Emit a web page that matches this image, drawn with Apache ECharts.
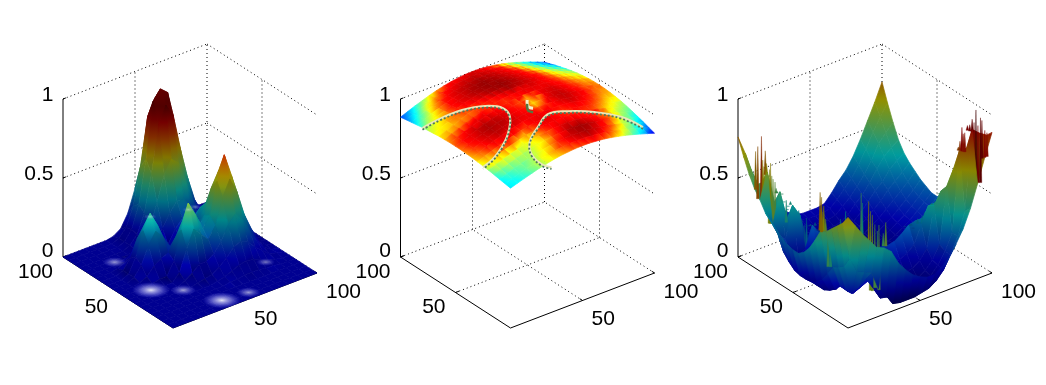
<!DOCTYPE html>
<html>
<head>
<meta charset="utf-8">
<style>html,body{margin:0;background:#fff}#chart{width:1046px;height:385px;filter:blur(0.5px)}</style>
<script src="https://cdn.jsdelivr.net/npm/echarts@6/dist/echarts.min.js"></script>
</head>
<body>
<div id="chart"></div>
<script>
// grid nodes of all three surfaces, same for x and y
const gridPos = [0,5,10,15,20,25,30,35,40,45,50,55,60,65,70,75,80,85,90,95,100];
const zTicks = [0, 0.5, 1];
const zTickLabels = ['0', '0.5', '1'];
const xyTicks = [0, 50, 100];
const xyTickLabels = ['', '50', '100'];

// left surface, height x 100, one row per y
const heightsA = [
[0,0,0,0,0,0,0,0,0,0,0,0,0,0,0,0,0,0,0,0,0],
[0,0,0,0,0,0,0,0,0,0,0,0,0,0,0,0,0,0,0,0,0],
[0,0,0,0,0,0,0,0,0,0,0,0,0,0,0,0,0,0,0,0,0],
[0,0,0,0,0,0,0,0,0,0,0,0,0,0,0,0,0,0,0,0,0],
[0,0,0,0,0,0,0,0,0,0,0,1,1,2,2,2,1,1,0,0,0],
[0,0,0,0,0,0,0,0,0,0,1,2,4,6,7,6,4,2,1,0,0],
[0,0,0,0,0,0,0,0,1,2,3,6,10,15,17,15,10,6,2,1,0],
[0,0,0,0,0,0,0,2,5,9,9,12,18,27,32,27,18,10,4,1,0],
[0,0,0,0,0,0,0,5,18,29,24,19,26,42,52,42,26,15,6,2,0],
[0,0,0,0,1,2,2,10,28,43,34,24,30,50,65,50,30,16,7,2,0],
[0,0,0,1,3,8,11,13,21,30,24,21,28,44,53,43,26,15,6,2,0],
[0,0,0,2,8,19,26,21,13,11,9,13,22,32,37,28,18,10,4,1,0],
[0,0,0,2,11,26,35,26,12,4,3,10,19,27,27,20,11,6,2,1,0],
[0,0,0,2,8,19,26,19,8,2,2,9,16,20,18,12,4,2,1,0,0],
[0,0,0,1,3,8,11,8,4,3,4,12,17,19,15,9,2,2,0,0,0],
[0,0,0,0,1,2,2,2,3,6,12,20,26,25,19,10,4,2,1,0,0],
[0,0,0,0,0,0,0,1,4,12,26,42,50,46,33,19,9,4,2,0,0],
[0,0,0,0,0,0,0,2,7,19,42,72,82,74,51,31,15,6,3,0,0],
[0,0,0,0,0,0,0,2,8,22,49,84,90,86,59,36,17,7,3,0,0],
[0,0,0,0,0,0,0,2,7,19,42,72,82,74,51,31,15,6,3,0,0],
[0,0,0,0,0,0,0,1,4,12,26,42,49,44,32,19,9,4,2,0,0]
];

// glare patches on the left surface: position, height under the patch, strength
const glareX = [19, 16, 30, 40, 57, 85, 30, 45, 66];
const glareY = [78, 41, 30, 8, 6, 27, 60, 45, 66];
const glareZ = [0, 0, 0, 0, 0, 0, 0.33, 0.39, 0.24];
const glareAmount = [0.5, 1, 0.55, 1, 0.5, 0.3, 0.1, 0.08, 0.1];

// middle surface, height x 1000
const heightsB = [
[885,900,914,928,941,952,962,970,975,979,980,979,975,970,962,952,941,928,914,900,885],
[891,907,922,936,948,961,971,979,985,989,990,989,986,981,973,964,952,940,927,912,897],
[897,913,929,943,957,969,979,988,994,999,1001,1000,997,991,984,976,964,952,938,924,910],
[903,919,935,950,965,977,988,997,1003,1008,1010,1010,1007,1002,995,986,976,963,950,935,921],
[909,925,942,957,971,984,996,1005,1012,1017,1019,1019,1017,1012,1005,996,985,974,961,946,932],
[913,931,947,963,978,991,1003,1012,1020,1025,1027,1028,1025,1021,1014,1005,995,982,970,956,942],
[917,935,952,968,983,996,1009,1019,1026,1032,1035,1035,1033,1028,1022,1013,1002,991,977,964,950],
[921,938,956,972,988,1002,1014,1024,1032,1038,1040,1041,1039,1035,1029,1019,1009,997,985,971,956],
[923,941,959,976,992,1006,1017,1028,1036,1042,1045,1046,1044,1040,1033,1025,1014,1002,989,975,961],
[925,942,960,977,993,1008,1020,1031,1039,1045,1048,1049,1047,1043,1036,1028,1017,1005,992,978,964],
[925,943,961,979,995,1009,1022,1033,1041,1047,1050,1051,1049,1045,1038,1029,1019,1007,993,979,965],
[925,943,961,978,994,1009,1022,1032,1041,1047,1050,1051,1049,1044,1038,1029,1018,1006,993,979,964],
[923,942,960,978,994,1009,1021,1031,1040,1046,1049,1050,1048,1043,1037,1028,1016,1004,990,976,961],
[921,939,957,975,992,1006,1018,1029,1038,1044,1046,1047,1045,1040,1033,1023,1013,1000,986,972,956],
[917,936,955,971,988,1002,1015,1026,1034,1040,1043,1043,1041,1035,1028,1019,1007,994,980,965,950],
[913,932,950,968,982,998,1011,1021,1030,1035,1037,1038,1035,1030,1022,1012,1001,987,973,957,942],
[909,927,945,962,978,992,1006,1016,1024,1029,1031,1031,1029,1023,1015,1004,992,979,964,948,932],
[903,921,940,956,973,987,1000,1010,1017,1022,1024,1024,1021,1015,1007,996,984,970,955,937,921],
[897,916,934,950,966,980,992,1003,1009,1015,1017,1016,1012,1006,997,987,973,959,943,924,910],
[891,910,927,944,959,974,985,995,1002,1007,1008,1007,1003,997,988,977,964,950,932,915,897],
[885,903,921,937,953,966,978,987,994,999,1000,999,994,987,978,966,953,937,921,903,885]
];

// middle surface colour index 0..100 on the jet ramp
const colorsB = [
[35,37,41,46,52,57,62,65,68,70,72,73,73,71,68,63,56,48,38,26,10],
[36,40,44,48,53,58,63,68,72,77,83,87,88,84,77,70,62,54,45,34,20],
[40,44,47,50,53,57,62,67,73,82,90,95,97,93,85,76,68,59,50,40,28],
[46,50,53,54,55,57,60,65,72,80,90,96,98,94,86,78,71,62,54,46,36],
[54,57,60,60,60,60,62,66,73,80,86,88,88,85,80,75,70,63,56,50,44],
[60,63,66,68,68,67,68,70,78,83,84,80,76,75,74,74,70,65,60,55,50],
[64,68,72,75,77,76,74,76,82,86,84,76,74,76,78,77,73,69,64,60,58],
[66,71,78,84,87,86,84,83,85,85,80,76,78,82,85,83,79,73,68,64,62],
[68,74,82,89,93,93,90,86,84,80,72,74,80,88,91,87,82,76,71,68,66],
[70,77,85,92,96,95,90,85,80,74,64,70,84,90,92,88,82,77,72,69,68],
[71,78,86,92,93,91,87,82,76,72,66,74,84,88,90,86,80,75,71,70,70],
[69,74,80,84,84,82,80,76,74,75,78,82,84,85,86,83,78,73,70,68,68],
[66,68,70,72,73,74,74,74,76,80,84,86,86,85,84,80,75,71,68,66,66],
[63,64,66,68,70,72,74,78,84,90,93,92,90,87,83,78,73,68,65,62,62],
[60,62,66,70,73,76,82,88,94,97,99,96,92,88,83,77,71,65,61,58,57],
[56,60,65,70,76,83,88,93,97,99,100,97,92,87,81,75,68,62,57,54,52],
[50,56,63,70,78,85,90,95,98,100,98,95,90,85,79,72,65,58,52,48,45],
[38,50,60,70,77,85,90,94,97,98,96,93,88,83,76,68,60,52,45,41,38],
[30,42,56,66,74,82,87,90,93,94,93,90,85,80,72,64,55,47,40,35,32],
[24,34,48,60,68,76,82,86,88,89,89,87,82,76,68,58,50,42,34,30,26],
[20,28,40,50,60,68,75,79,82,84,85,83,76,70,62,52,45,38,30,25,20]
];

// ridges on the middle surface, [x, y, height]
const ridgeLeft = [[0,80,.90],[6.5,74,.96],[18.8,68.6,1],[29.5,61.7,1.02],[34.8,52.3,1.03],[31.7,42,1.03],[20.3,29,1.02],[11,22.4,1],[2.2,19,.97],[0,25,.90]];
const ridgeRight = [[92,0,.945],[85.8,11.3,.98],[75.3,22,1],[63,30.5,1.01],[51.3,33.2,1.02],[38,25,1.02],[26.6,17.4,1],[22.5,10.3,.97],[24.4,3.8,.93],[28.5,0,.913]];
const ridgeBump = [[49,49,1.04],[45,43,1.04],[47,41,1.03]];

// right surface, height x 100
const heightsC = [
[70,63,56,50,44,42,38,29,23,18,15,13,13,16,20,27,35,46,60,75,89],
[64,40,30,28,26,14,8,1,0,0,0,1,2,5,10,18,28,42,92,88,85],
[60,33,14,16,20,12,4,3,2,2,2,2,3,6,11,18,28,78,78,72,70],
[56,30,14,10,12,16,7,5,4,4,4,3,4,7,12,20,55,65,60,60,60],
[52,28,14,9,8,9,11,10,8,7,7,7,8,11,17,42,50,50,50,50,52],
[50,22,10,16,9,7,7,9,15,13,12,13,15,19,30,40,40,38,39,41,44],
[42,16,7,6,14,6,5,6,8,22,21,22,25,29,30,30,31,32,33,35,37],
[35,12,5,4,6,12,5,5,5,6,8,11,14,17,20,22,24,26,28,30,32],
[30,10,5,4,4,7,15,4,4,4,5,6,9,11,13,15,17,20,22,25,28],
[27,9,5,4,4,6,14,4,3,3,3,4,5,7,9,11,13,16,19,23,27],
[27,9,6,5,5,7,13,20,3,2,2,3,3,5,7,9,11,14,17,21,26],
[28,10,8,7,7,9,18,4,3,2,2,2,3,4,6,8,11,14,18,22,26],
[30,13,9,8,9,13,23,9,5,3,2,3,3,4,6,9,12,15,19,23,28],
[33,17,12,11,14,27,20,7,4,3,3,3,4,5,7,10,13,17,21,25,30],
[36,26,21,41,33,15,8,5,4,4,4,4,5,6,9,12,16,20,24,28,33],
[39,30,49,30,18,12,9,7,6,5,5,5,6,8,11,15,19,24,28,32,36],
[45,61,40,28,18,13,10,8,6,5,5,5,6,9,13,18,23,27,33,37,40],
[50,52,38,27,20,16,13,10,8,7,7,7,8,11,16,20,26,33,39,43,46],
[57,48,38,30,24,19,15,12,10,9,9,9,10,14,18,23,29,36,45,50,55],
[66,56,44,35,27,22,18,14,12,11,11,11,12,16,21,26,33,41,50,58,65],
[76,64,50,39,31,25,20,16,13,12,12,12,13,18,24,29,36,45,55,65,76]
];

// thin spikes on the right surface, [x, y, top height]
const spikesC = [
[0,84,.74],[0,82,.78],[1,80,.85],[1.5,79.5,.7],[2,79,.66],[2.5,78.5,.76],[3,78,.68],[4,77.5,.6],[4.5,77.3,.64],[5,77,.68],[5.5,76.5,.6],[6,76,.58],[7,75.5,.56],[7.5,75.2,.52],[8,75,.5],[9,74.3,.48],[9.8,74,.44],[10.5,73.7,.48],[11.5,73,.43],[12.5,72.5,.44],[13,72.2,.38],[13.5,72,.4],[14.5,71.3,.43],[15.5,70.7,.36],[16.5,70,.37],[17,69.8,.33],[17.5,69.5,.32],[18.5,69,.37],[19.3,68.5,.3],[20,68,.3],[21,67,.28],[22,66.5,.32],[23,66,.27],[24,65.5,.28],[25,65,.25],[26,64,.29],[27,63.5,.24],[28,63,.25],[29,62,.27],[30,61.5,.32],
[0,24,.72],[.5,26,.74],[1,25,.62],[1.5,24,.66],[2,23,.58],[3,22,.5],[4,21,.45],[22,10,.68],[22.5,9,.62],[23,8,.6],[24,7,.54],[25,6,.5],[24.4,3.8,.55],[26,2,.5],[27,1,.57],[43.5,45,.5],[44.5,46,.38],[46,47,.42],[33,50,.35],[34,49,.3],[35,48,.4],[37,46,.3],
[96.5,0,.9],[95,0,.92],[93,0,.99],[92,0,1.01],[91,1,.96],[90,1.5,1.06],[89.2,2.2,.98],[88.5,3,1],[88,4.5,.96],[87.5,6,.95],[86.8,7.5,.9],[86,9,.93],[86.5,8.5,.89],[85.4,10,.84],[85,11,.8],[85.8,11.3,.71],[85,12,.6],[84.5,12.8,.66],[83,14.5,.6],[81.5,16,.54],[80.5,17,.47],[79.5,18,.51],[78.8,18.8,.44],[78,19.5,.49],[77,20.5,.4],[76.5,21,.44],[75.7,21.5,.38],[75,22,.43],[74,23,.4],[73,24,.34],[72,24.8,.37],[71,25.5,.35],[70,26.5,.3],[69,27,.33],[68,28,.32],[67,28.5,.27],[66,29,.3],[65.5,29.5,.29],[64,30,.25],[63,30.5,.285]
];

// view of the box: screen pixels per unit of x, y and z
const view = {xu: 1.44, yu: -1.10, xv: 0.55, yv: 0.71, zv: 158};
const originY = 328;
const panelOrigins = [173, 510.5, 848];
const uMin = -115, uMax = 185, vMin = -10, vMax = 310;

function project(x, y, z) {
    return [view.xu * x + view.yu * y, view.xv * x + view.yv * y + view.zv * z];
}
function clamp01(t) { return Math.max(0, Math.min(1, t)); }
function jet(t) {
    t = clamp01(t);
    return [clamp01(1.5 - Math.abs(4 * t - 3)), clamp01(1.5 - Math.abs(4 * t - 2)), clamp01(1.5 - Math.abs(4 * t - 1))];
}
function rgb(c, s) {
    return 'rgb(' + c.map(v => Math.round(255 * clamp01(v * s))).join(',') + ')';
}

function slopeNz(h, i, j) {
    const n = gridPos.length - 1;
    const i0 = Math.max(0, i - 1), i1 = Math.min(n, i + 1), j0 = Math.max(0, j - 1), j1 = Math.min(n, j + 1);
    const p = (h[j][i1] - h[j][i0]) / ((i1 - i0) * 0.05);
    const q = (h[j1][i] - h[j0][i]) / ((j1 - j0) * 0.05);
    return 1 / Math.sqrt(1 + p * p + q * q);
}

function surfaceItems(rows, scale, shade) {
    const items = [];
    const h = rows.map(r => r.map(v => v * scale));
    for (let j = 0; j < gridPos.length - 1; j++) {
        for (let i = 0; i < gridPos.length - 1; i++) {
            items.push({kind: 0, i: i, j: j, depth: view.xv * (gridPos[i] + 2.5) + view.yv * (gridPos[j] + 2.5)});
        }
    }
    return {h: h, items: items, shade: shade};
}

function cellShape(api, surf, it, colorAt) {
    const h = surf.h, corners = [[it.i, it.j], [it.i + 1, it.j], [it.i + 1, it.j + 1], [it.i, it.j + 1]];
    const pts = corners.map(c => api.coord(project(gridPos[c[0]], gridPos[c[1]], h[c[1]][c[0]])));
    const vals = corners.map(c => colorAt(c[0], c[1]));
    let lo = 0, hi = 0;
    vals.forEach((v, k) => { if (v < vals[lo]) lo = k; if (v > vals[hi]) hi = k; });
    const sLo = surf.shade(slopeNz(h, corners[lo][0], corners[lo][1]), h[corners[lo][1]][corners[lo][0]]);
    const sHi = surf.shade(slopeNz(h, corners[hi][0], corners[hi][1]), h[corners[hi][1]][corners[hi][0]]);
    const stops = [];
    for (let k = 0; k <= 4; k++) {
        const f = k / 4;
        stops.push({offset: f, color: rgb(jet(vals[lo] + (vals[hi] - vals[lo]) * f), sLo + (sHi - sLo) * f)});
    }
    const fill = (lo === hi || vals[lo] === vals[hi]) ? stops[0].color : {
        type: 'linear', x: pts[lo][0], y: pts[lo][1], x2: pts[hi][0], y2: pts[hi][1], global: true, colorStops: stops
    };
    return {type: 'polygon', silent: true, shape: {points: pts}, style: {fill: fill, stroke: fill, lineWidth: 0.7}};
}

function frameSeries(p) {
    return {
        type: 'custom', coordinateSystem: 'cartesian2d', xAxisIndex: p, yAxisIndex: p, z: 1, clip: false, silent: true,
        data: [[0, 0]],
        renderItem: function (params, api) {
            const kids = [];
            const seg = (a, b, dotted) => {
                const s = api.coord(project(a[0], a[1], a[2])), e = api.coord(project(b[0], b[1], b[2]));
                kids.push({type: 'line', shape: {x1: s[0], y1: s[1], x2: e[0], y2: e[1]},
                    style: {stroke: '#000', lineWidth: 1, lineDash: dotted ? [1, 3] : null}});
            };
            const label = (a, text, dx, dy, align) => {
                const s = api.coord(project(a[0], a[1], a[2]));
                kids.push({type: 'text', x: s[0] + dx, y: s[1] + dy, style: {text: text, fill: '#000',
                    font: '21px "Liberation Sans", Arial, sans-serif', align: align, verticalAlign: 'middle'}});
            };
            // dotted grid on the back walls and the floor
            xyTicks.forEach(t => {
                if (t === 0) return;
                seg([0, t, 0], [100, t, 0], true);
                seg([t, 0, 0], [t, 100, 0], true);
                seg([t, 100, 0], [t, 100, 1], true);
                if (t !== 100) seg([100, t, 0], [100, t, 1], true);
            });
            zTicks.forEach(t => {
                if (t === 0) return;
                seg([0, 100, t], [100, 100, t], true);
                seg([100, 100, t], [100, 0, t], true);
            });
            // solid axes
            seg([0, 100, 0], [0, 100, 1], false);
            seg([0, 100, 0], [0, 0, 0], false);
            seg([0, 0, 0], [100, 0, 0], false);
            zTicks.forEach((t, k) => {
                seg([0, 100, t], [2, 100, t], false);
                label([0, 100, t], zTickLabels[k], -9.5, t === 0 ? -6 : -4, 'right');
            });
            xyTicks.forEach((t, k) => {
                if (t === 0) return;
                seg([t, 0, 0], [t, 2.5, 0], false);
                seg([0, t, 0], [2.5, t, 0], false);
                label([t, 0, 0], xyTickLabels[k], 9, 19, 'left');
                label([0, t, 0], xyTickLabels[k], -10, 15, 'right');
            });
            return {type: 'group', children: kids};
        }
    };
}

function surfaceSeries(p, surf, colorAt, spikes, spikeColor) {
    let items = surf.items.slice();
    (spikes || []).forEach(s => {
        items.push({kind: 1, s: s, depth: view.xv * s[0] + view.yv * s[1] - 0.5});
    });
    items.sort((a, b) => b.depth - a.depth);
    return {
        type: 'custom', coordinateSystem: 'cartesian2d', xAxisIndex: p, yAxisIndex: p, z: 2, clip: false, silent: true,
        progressive: 0, animation: false,
        data: items.map((it, k) => [k, it.kind]),
        renderItem: function (params, api) {
            const it = items[params.dataIndex];
            if (it.kind === 0) return cellShape(api, surf, it, colorAt);
            const s = it.s, i = Math.round(s[0] / 5), j = Math.round(s[1] / 5);
            const base = Math.min(surf.h[j][i], s[2]);
            const a = api.coord(project(s[0], s[1], base)), t = api.coord(project(s[0], s[1], s[2]));
            return {type: 'polygon', silent: true, shape: {points: [[a[0] - 1.3, a[1]], [a[0] + 1.3, a[1]], [t[0], t[1]]]},
                style: {fill: spikeColor(s[2]), stroke: spikeColor(s[2]), lineWidth: 0.4}};
        }
    };
}

function glareSeries(p) {
    return {
        type: 'custom', coordinateSystem: 'cartesian2d', xAxisIndex: p, yAxisIndex: p, z: 3, clip: false, silent: true,
        data: glareX.map((x, k) => [x, glareY[k], glareZ[k], glareAmount[k]]),
        renderItem: function (params, api) {
            const c = api.coord(project(api.value(0), api.value(1), api.value(2)));
            const amt = api.value(3);
            return {type: 'circle', silent: true, x: c[0], y: c[1], scaleY: 0.42, shape: {cx: 0, cy: 0, r: 5 + 14 * amt},
                style: {fill: {type: 'radial', x: 0.5, y: 0.5, r: 0.5, colorStops: [
                    {offset: 0, color: 'rgba(255,255,255,' + (0.3 + 0.6 * amt) + ')'},
                    {offset: 0.5, color: 'rgba(190,190,255,' + (0.15 + 0.35 * amt) + ')'},
                    {offset: 1, color: 'rgba(120,120,255,0)'}
                ]}}};
        }
    };
}

function ridgeSeries(p, pts, color, width, dash, offset) {
    return {
        type: 'custom', coordinateSystem: 'cartesian2d', xAxisIndex: p, yAxisIndex: p, z: 3, clip: false, silent: true,
        data: [[0, 0]],
        renderItem: function (params, api) {
            const line = pts.map(q => {
                const c = api.coord(project(q[0], q[1], q[2]));
                return [c[0], c[1] + offset];
            });
            return {type: 'polyline', silent: true, shape: {points: line, smooth: 0.4},
                style: {stroke: color, fill: null, lineWidth: width, lineDash: dash}};
        }
    };
}

const surfA = surfaceItems(heightsA, 0.01, (nz, z) => z > 0.05 ? Math.min(0.78, 0.5 + 0.6 * nz * nz * nz) : 0.5 + 0.64 * nz * nz * nz);
const surfB = surfaceItems(heightsB, 0.001, nz => 1.02);
const surfC = surfaceItems(heightsC, 0.01, nz => 0.5 + 0.2 * nz);

// middle surface ramp: orange and red take most of the upper range, dark red only at the top
function hotRamp(c) {
    if (c < 0.6) return c;
    return c < 0.75 ? 0.6 + (c - 0.6) * 1.67 : 0.85 + (c - 0.75) * 0.52;
}

const series = [
    frameSeries(0), frameSeries(1), frameSeries(2),
    surfaceSeries(0, surfA, (i, j) => surfA.h[j][i] / 0.8),
    glareSeries(0),
    surfaceSeries(1, surfB, (i, j) => hotRamp(colorsB[j][i] / 100)),
    surfaceSeries(2, surfC, (i, j) => surfC.h[j][i] / 1.06, spikesC, z => rgb(jet(z / 1.06), 0.5))
];
[ridgeLeft, ridgeRight].forEach(r => {
    series.push(ridgeSeries(1, r, '#e9e8b8', 2.2, null, -0.8));
    series.push(ridgeSeries(1, r, '#4f7a5c', 1.8, [2, 2], 0.8));
});
series.push(ridgeSeries(1, ridgeBump, '#f6f2c8', 3, null, -2));
series.push(ridgeSeries(1, ridgeBump, '#56763f', 2.5, null, 2));

const chart = echarts.init(document.getElementById('chart'), null, {renderer: 'canvas'});
chart.setOption({
    animation: false,
    backgroundColor: '#fff',
    tooltip: {show: false},
    grid: panelOrigins.map(o => ({left: o + uMin, top: originY - vMax, width: uMax - uMin, height: vMax - vMin})),
    xAxis: panelOrigins.map((o, k) => ({type: 'value', gridIndex: k, min: uMin, max: uMax, show: false})),
    yAxis: panelOrigins.map((o, k) => ({type: 'value', gridIndex: k, min: vMin, max: vMax, show: false})),
    series: series
});
</script>
</body>
</html>
